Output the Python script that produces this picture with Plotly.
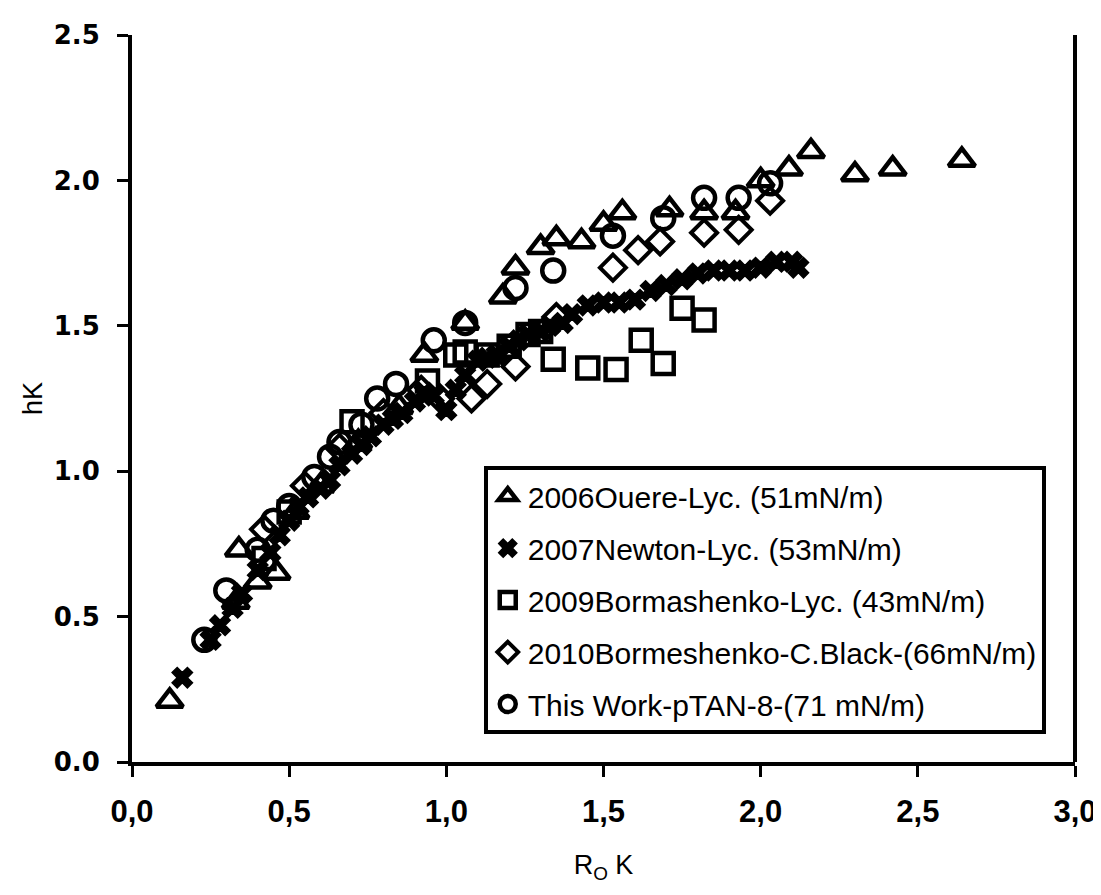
import plotly.graph_objects as go

# 2006 Ouere - Lycopodium (triangles)
tri_x = [0.12, 0.34, 0.33, 0.40, 0.46, 0.52, 0.60, 0.72, 0.85, 0.93, 1.06, 1.18, 1.22,
         1.30, 1.35, 1.43, 1.50, 1.56, 1.71, 1.82, 1.92, 2.00, 2.09, 2.16, 2.30, 2.42, 2.64]
tri_y = [0.21, 0.73, 0.55, 0.62, 0.65, 0.86, 0.95, 1.10, 1.22, 1.40, 1.51, 1.60, 1.70,
         1.77, 1.80, 1.79, 1.85, 1.89, 1.90, 1.89, 1.89, 2.00, 2.04, 2.10, 2.02, 2.04, 2.07]

# 2007 Newton - Lycopodium (crosses)
crs_x = [0.16, 0.25, 0.28, 0.32, 0.35, 0.40, 0.44, 0.47, 0.50, 0.53, 0.56, 0.60, 0.63,
         0.66, 0.70, 0.73, 0.76, 0.80, 0.83, 0.86, 0.90, 0.93, 0.96, 1.00, 1.03, 1.06,
         1.10, 1.13, 1.16, 1.20, 1.23, 1.26, 1.30, 1.33, 1.37, 1.40, 1.45, 1.50, 1.55,
         1.60, 1.65, 1.70, 1.75, 1.80, 1.85, 1.90, 1.95, 2.00, 2.05, 2.10, 2.12]
crs_y = [0.29, 0.42, 0.47, 0.53, 0.58, 0.66, 0.72, 0.78, 0.83, 0.88, 0.91, 0.94, 0.97,
         1.02, 1.06, 1.09, 1.12, 1.16, 1.18, 1.20, 1.24, 1.27, 1.26, 1.21, 1.28, 1.33,
         1.38, 1.39, 1.40, 1.43, 1.45, 1.47, 1.48, 1.50, 1.51, 1.54, 1.57, 1.58, 1.58,
         1.59, 1.62, 1.64, 1.66, 1.68, 1.69, 1.69, 1.69, 1.70, 1.72, 1.72, 1.70]

# 2009 Bormashenko - Lycopodium (squares)
sq_x = [0.42, 0.50, 0.70, 0.94, 1.03, 1.06, 1.13, 1.20, 1.26, 1.30, 1.34, 1.45, 1.54,
        1.62, 1.69, 1.75, 1.82]
sq_y = [0.70, 0.86, 1.17, 1.31, 1.40, 1.41, 1.40, 1.43, 1.47, 1.48, 1.385, 1.355, 1.35,
        1.45, 1.37, 1.56, 1.52]

# 2010 Bormashenko - Carbon Black (diamonds)
dia_x = [0.42, 0.55, 0.66, 0.80, 0.92, 0.98, 1.08, 1.13, 1.22, 1.35, 1.53, 1.61, 1.68,
         1.82, 1.93, 2.03]
dia_y = [0.80, 0.95, 1.08, 1.20, 1.28, 1.25, 1.25, 1.30, 1.36, 1.53, 1.70, 1.76, 1.79,
         1.82, 1.83, 1.93]

# This work - pTAN-8 (circles)
cir_x = [0.23, 0.30, 0.40, 0.45, 0.50, 0.58, 0.63, 0.66, 0.73, 0.78, 0.84, 0.96, 1.06,
         1.22, 1.34, 1.53, 1.69, 1.82, 1.93, 2.03]
cir_y = [0.42, 0.59, 0.73, 0.83, 0.88, 0.98, 1.05, 1.10, 1.16, 1.25, 1.30, 1.45, 1.51,
         1.63, 1.69, 1.81, 1.87, 1.94, 1.94, 1.99]

names = ["2006Ouere-Lyc. (51mN/m)", "2007Newton-Lyc. (53mN/m)",
         "2009Bormashenko-Lyc. (43mN/m)", "2010Bormeshenko-C.Black-(66mN/m)",
         "This Work-pTAN-8-(71 mN/m)"]

x_ticks = [0.0, 0.5, 1.0, 1.5, 2.0, 2.5, 3.0]
x_tick_labels = ["0,0", "0,5", "1,0", "1,5", "2,0", "2,5", "3,0"]
y_ticks = [0.0, 0.5, 1.0, 1.5, 2.0, 2.5]
y_tick_labels = ["0.0", "0.5", "1.0", "1.5", "2.0", "2.5"]

FONT = "Liberation Sans Narrow, Liberation Sans, Arial"

fig = go.Figure()

fig.add_trace(go.Scatter(x=tri_x, y=tri_y, mode="markers", name=names[0], legendgroup="a",
                         marker=dict(symbol="triangle-up-open", size=23, color="black",
                                     line=dict(width=4.5, color="black"))))
fig.add_trace(go.Scatter(x=crs_x, y=crs_y, mode="markers", name=names[1], legendgroup="b",
                         marker=dict(symbol="x", size=18, color="black",
                                     line=dict(width=1.5, color="black"))))
fig.add_trace(go.Scatter(x=sq_x, y=sq_y, mode="markers", name=names[2], legendgroup="c",
                         marker=dict(symbol="square-open", size=21, color="black",
                                     line=dict(width=4.5, color="black"))))
fig.add_trace(go.Scatter(x=dia_x, y=dia_y, mode="markers", name=names[3], legendgroup="d",
                         marker=dict(symbol="diamond-open", size=20, color="black",
                                     line=dict(width=4, color="black"))))
fig.add_trace(go.Scatter(x=cir_x, y=cir_y, mode="markers", name=names[4], legendgroup="e",
                         marker=dict(symbol="circle-open", size=22, color="black",
                                     line=dict(width=4.5, color="black"))))

fig.update_layout(
    width=1101, height=895,
    margin=dict(l=124, r=34, t=25, b=141),
    paper_bgcolor="white", plot_bgcolor="white",
    showlegend=True,
    legend=dict(x=0.373, y=0.407, xanchor="left", yanchor="top",
                bordercolor="black", borderwidth=4, bgcolor="white",
                font=dict(family=FONT, size=30, color="black"),
                tracegroupgap=10, itemsizing="trace"),
    xaxis=dict(range=[0, 3.0], tickvals=x_ticks, ticktext=x_tick_labels,
               showgrid=False, zeroline=False, showline=True, linecolor="black", linewidth=4,
               ticks="outside", ticklen=11, tickwidth=3, tickcolor="black",
               ticklabelstandoff=8,
               tickfont=dict(family=FONT, size=31, color="black", weight="bold"),
               title=dict(text="R<sub>O</sub> K", standoff=28,
                          font=dict(family=FONT, size=27, color="black"))),
    yaxis=dict(range=[0, 2.5], tickvals=y_ticks, ticktext=y_tick_labels,
               showgrid=False, zeroline=False, showline=True, linecolor="black", linewidth=4,
               ticks="outside", ticklen=11, tickwidth=3, tickcolor="black",
               ticklabelstandoff=12,
               tickfont=dict(family="DejaVu Sans", size=26, color="black", weight="bold"),
               title=dict(text="hK", standoff=4,
                          font=dict(family=FONT, size=27, color="black"))),
    shapes=[dict(type="line", xref="paper", yref="paper", x0=1, x1=1, y0=0, y1=1,
                 line=dict(color="black", width=4))],
)

fig.write_html("out.html")
